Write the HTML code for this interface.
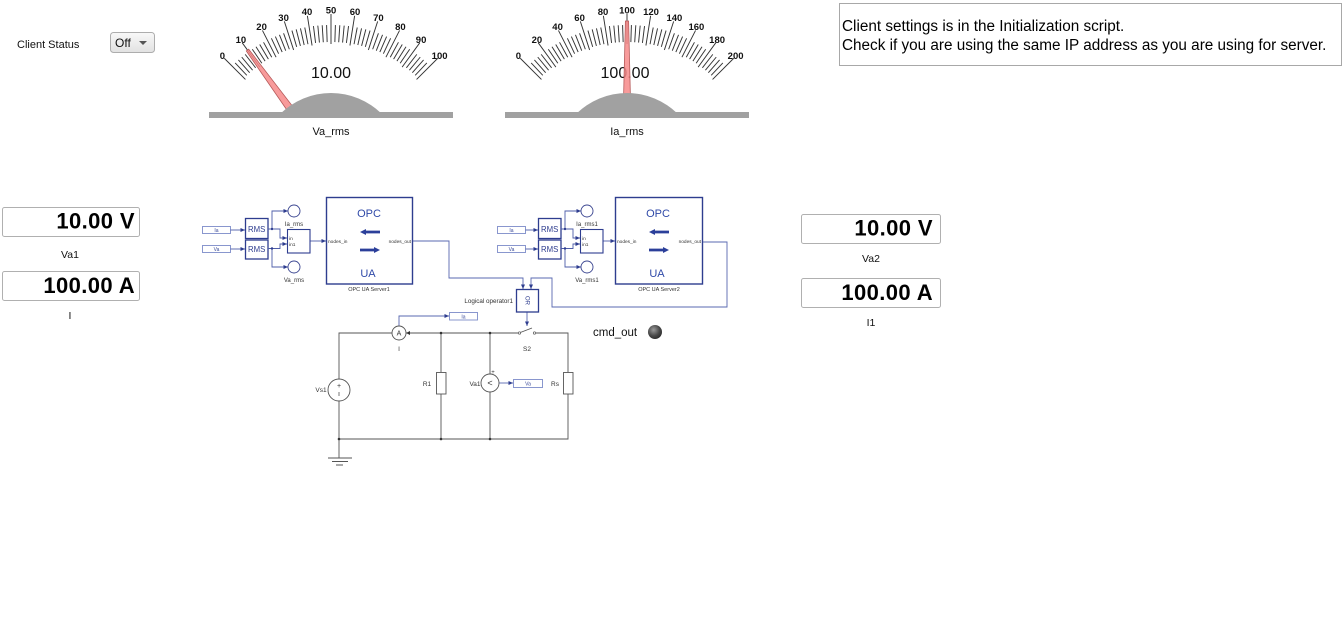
<!DOCTYPE html>
<html>
<head>
<meta charset="utf-8">
<style>
html,body{margin:0;padding:0;background:#fff;}
body{width:1343px;height:632px;overflow:hidden;position:relative;}
svg{position:absolute;left:0;top:0;}
text{font-family:"Liberation Sans",Arial,sans-serif;}
</style>
</head>
<body>
<svg width="1343" height="632" viewBox="0 0 1343 632" xmlns="http://www.w3.org/2000/svg">
<defs>
  <linearGradient id="dd" x1="0" y1="0" x2="0" y2="1">
    <stop offset="0" stop-color="#f8f8f8"/>
    <stop offset="1" stop-color="#e2e2e2"/>
  </linearGradient>
  <radialGradient id="led" cx="0.4" cy="0.35" r="0.7">
    <stop offset="0" stop-color="#9a9a9a"/>
    <stop offset="0.6" stop-color="#4a4a4a"/>
    <stop offset="1" stop-color="#2a2a2a"/>
  </radialGradient>
  <marker id="ab" markerWidth="5" markerHeight="5" refX="4.5" refY="2.5" orient="auto" markerUnits="userSpaceOnUse">
    <path d="M0,0.5 L4.5,2.5 L0,4.5 Z" fill="#2e3d8f"/>
  </marker>
</defs>

<!-- Client status -->
<text x="17" y="48" font-size="11" fill="#111">Client Status</text>
<rect x="110.5" y="32.5" width="44" height="20" rx="3" fill="url(#dd)" stroke="#adadad"/>
<text x="115" y="47" font-size="12" fill="#111">Off</text>
<path d="M139,41 L147,41 L143,45 Z" fill="#555"/>

<!-- Gauge 1 -->
<g id="g1ticks" stroke="#333" stroke-width="0.95"></g>
<g font-family="DejaVu Sans,Verdana,sans-serif" font-weight="bold" font-size="9.5" fill="#111" text-anchor="middle">
  <text x="222.4" y="59">0</text>
  <text x="240.9" y="43">10</text>
  <text x="261.6" y="30">20</text>
  <text x="283.6" y="21">30</text>
  <text x="307" y="15">40</text>
  <text x="331" y="13.5">50</text>
  <text x="355" y="15">60</text>
  <text x="378.4" y="21">70</text>
  <text x="400.4" y="30">80</text>
  <text x="421.1" y="43">90</text>
  <text x="439.6" y="59">100</text>
</g>
<text x="331" y="78" font-size="16" fill="#111" text-anchor="middle">10.00</text>
<polygon points="295.6,110.3 248.7,49.2 246.3,51.0 290.0,114.5" fill="#f78a8a" fill-opacity="0.85" stroke="#b65a5a" stroke-width="0.8"/>
<clipPath id="c1"><rect x="200" y="0" width="270" height="112"/></clipPath>
<circle cx="331" cy="165" r="72" fill="#a1a1a1" clip-path="url(#c1)"/>
<rect x="209" y="112" width="244" height="6" fill="#a1a1a1"/>
<text x="331" y="135" font-size="11" fill="#111" text-anchor="middle">Va_rms</text>

<!-- Gauge 2 -->
<g id="g2ticks" stroke="#333" stroke-width="0.95"></g>
<g font-family="DejaVu Sans,Verdana,sans-serif" font-weight="bold" font-size="9.5" fill="#111" text-anchor="middle">
  <text x="518.4" y="59">0</text>
  <text x="536.9" y="43">20</text>
  <text x="557.6" y="30">40</text>
  <text x="579.6" y="21">60</text>
  <text x="603" y="15">80</text>
  <text x="627" y="13.5">100</text>
  <text x="651" y="15">120</text>
  <text x="674.4" y="21">140</text>
  <text x="696.4" y="30">160</text>
  <text x="717.1" y="43">180</text>
  <text x="735.6" y="59">200</text>
</g>
<text x="625" y="78" font-size="16" fill="#111" text-anchor="middle">100.00</text>
<polygon points="630.5,100 628.6,21 625.4,21 623.5,100" fill="#f78a8a" fill-opacity="0.85" stroke="#b65a5a" stroke-width="0.8"/>
<clipPath id="c2"><rect x="496" y="0" width="270" height="112"/></clipPath>
<circle cx="627" cy="165" r="72" fill="#a1a1a1" clip-path="url(#c2)"/>
<rect x="505" y="112" width="244" height="6" fill="#a1a1a1"/>
<text x="627" y="135" font-size="11" fill="#111" text-anchor="middle">Ia_rms</text>

<!-- Info text box -->
<rect x="839.5" y="3.5" width="502" height="62" fill="#fff" stroke="#a8a8a8"/>
<text x="842" y="31" font-size="15.3" fill="#000">Client settings is in the Initialization script.</text>
<text x="842" y="50" font-size="15.3" fill="#000">Check if you are using the same IP address as you are using for server.</text>

<!-- Left displays -->
<rect x="2.5" y="207.5" width="137" height="29" rx="2" fill="#fff" stroke="#b0b0b0"/>
<text x="135" y="228.5" font-size="22" font-weight="bold" fill="#000" text-anchor="end" letter-spacing="0.4">10.00 V</text>
<text x="70" y="258" font-size="10.5" font-family="DejaVu Sans Mono,Liberation Mono,monospace" fill="#111" text-anchor="middle">Va1</text>
<rect x="2.5" y="271.5" width="137" height="29" rx="2" fill="#fff" stroke="#b0b0b0"/>
<text x="135" y="293" font-size="22" font-weight="bold" fill="#000" text-anchor="end" letter-spacing="0.4">100.00 A</text>
<text x="70" y="319" font-size="10.5" font-family="DejaVu Sans Mono,Liberation Mono,monospace" fill="#111" text-anchor="middle">I</text>

<!-- Right displays -->
<rect x="801.5" y="214.5" width="139" height="29" rx="2" fill="#fff" stroke="#b0b0b0"/>
<text x="933" y="235.5" font-size="22" font-weight="bold" fill="#000" text-anchor="end" letter-spacing="0.4">10.00 V</text>
<text x="871" y="262" font-size="10.5" font-family="DejaVu Sans Mono,Liberation Mono,monospace" fill="#111" text-anchor="middle">Va2</text>
<rect x="801.5" y="278.5" width="139" height="29" rx="2" fill="#fff" stroke="#b0b0b0"/>
<text x="933" y="300" font-size="22" font-weight="bold" fill="#000" text-anchor="end" letter-spacing="0.4">100.00 A</text>
<text x="871" y="326" font-size="10.5" font-family="DejaVu Sans Mono,Liberation Mono,monospace" fill="#111" text-anchor="middle">I1</text>

<!-- cmd_out -->
<text x="593" y="336" font-size="11.5" fill="#111">cmd_out</text>
<circle cx="655" cy="332" r="7" fill="url(#led)"/>

<!-- ===== Circuit block 1 ===== -->
<g id="blk1">
  <rect x="202.5" y="226.5" width="28" height="7" fill="#fff" stroke="#7d8cc9" stroke-width="0.9"/>
  <text x="216.5" y="232" font-size="5" fill="#3a4a9a" text-anchor="middle">Ia</text>
  <rect x="202.5" y="245.5" width="28" height="7" fill="#fff" stroke="#7d8cc9" stroke-width="0.9"/>
  <text x="216.5" y="251" font-size="5" fill="#3a4a9a" text-anchor="middle">Va</text>
  <line x1="230.5" y1="230" x2="245" y2="230" stroke="#4d5ca8" stroke-width="0.9" marker-end="url(#ab)"/>
  <line x1="230.5" y1="249" x2="245" y2="249" stroke="#4d5ca8" stroke-width="0.9" marker-end="url(#ab)"/>
  <rect x="245.5" y="218.5" width="22.5" height="20" fill="#fff" stroke="#2e3d8f" stroke-width="1.3"/>
  <rect x="245.5" y="240" width="22.5" height="19" fill="#fff" stroke="#2e3d8f" stroke-width="1.3"/>
  <text x="256.7" y="232" font-size="7.8" fill="#2e3d8f" text-anchor="middle">RMS</text>
  <text x="256.7" y="252" font-size="7.8" fill="#2e3d8f" text-anchor="middle">RMS</text>
  <g fill="none" stroke="#4d5ca8" stroke-width="0.9">
    <path d="M268,229 H280 V238 H287" marker-end="url(#ab)"/>
    <path d="M268,248.5 H280 V244 H287" marker-end="url(#ab)"/>
    <path d="M272,229 V211 H288" marker-end="url(#ab)"/>
    <path d="M272,248.5 V267 H288" marker-end="url(#ab)"/>
    <path d="M310,241 H326" marker-end="url(#ab)"/>
  </g>
  <circle cx="272" cy="229" r="1.2" fill="#2e3d8f"/>
  <circle cx="272" cy="248.5" r="1.2" fill="#2e3d8f"/>
  <circle cx="294" cy="211" r="6" fill="#fff" stroke="#3a4590" stroke-width="0.9"/>
  <circle cx="294" cy="267" r="6" fill="#fff" stroke="#3a4590" stroke-width="0.9"/>
  <text x="294" y="226" font-size="6" fill="#333" text-anchor="middle">Ia_rms</text>
  <text x="294" y="282" font-size="6" fill="#333" text-anchor="middle">Va_rms</text>
  <rect x="287.5" y="229.5" width="22.5" height="23.5" fill="#fff" stroke="#2e3d8f" stroke-width="1.1"/>
  <text x="289" y="240" font-size="4.8" fill="#333">in</text>
  <text x="289" y="246" font-size="4.8" fill="#333">in1</text>
  <rect x="326.5" y="197.5" width="86" height="86.5" fill="#fff" stroke="#2e3d8f" stroke-width="1.4"/>
  <text x="369" y="217" font-size="11" fill="#2f49a8" text-anchor="middle">OPC</text>
  <text x="368" y="277" font-size="11" fill="#2f49a8" text-anchor="middle">UA</text>
  <path d="M360,232 L366,229 L366,230.6 L380,230.6 L380,233.4 L366,233.4 L366,235 Z" fill="#2b3f9a"/>
  <path d="M380,250 L374,247 L374,248.6 L360,248.6 L360,251.4 L374,251.4 L374,253 Z" fill="#2b3f9a"/>
  <text x="328" y="243" font-size="4.8" fill="#333">nodes_in</text>
  <text x="411" y="243" font-size="4.8" fill="#333" text-anchor="end">nodes_out</text>
  <text x="369" y="291" font-size="5.5" fill="#333" text-anchor="middle">OPC UA Server1</text>
</g>

<!-- ===== Circuit block 2 ===== -->
<g id="blk2">
  <rect x="497.5" y="226.5" width="28" height="7" fill="#fff" stroke="#7d8cc9" stroke-width="0.9"/>
  <text x="511.5" y="232" font-size="5" fill="#3a4a9a" text-anchor="middle">Ia</text>
  <rect x="497.5" y="245.5" width="28" height="7" fill="#fff" stroke="#7d8cc9" stroke-width="0.9"/>
  <text x="511.5" y="251" font-size="5" fill="#3a4a9a" text-anchor="middle">Va</text>
  <line x1="525.5" y1="230" x2="538" y2="230" stroke="#4d5ca8" stroke-width="0.9" marker-end="url(#ab)"/>
  <line x1="525.5" y1="249" x2="538" y2="249" stroke="#4d5ca8" stroke-width="0.9" marker-end="url(#ab)"/>
  <rect x="538.5" y="218.5" width="22.5" height="20" fill="#fff" stroke="#2e3d8f" stroke-width="1.3"/>
  <rect x="538.5" y="240" width="22.5" height="19" fill="#fff" stroke="#2e3d8f" stroke-width="1.3"/>
  <text x="549.7" y="232" font-size="7.8" fill="#2e3d8f" text-anchor="middle">RMS</text>
  <text x="549.7" y="252" font-size="7.8" fill="#2e3d8f" text-anchor="middle">RMS</text>
  <g fill="none" stroke="#4d5ca8" stroke-width="0.9">
    <path d="M561,229 H573 V238 H580" marker-end="url(#ab)"/>
    <path d="M561,248.5 H573 V244 H580" marker-end="url(#ab)"/>
    <path d="M565,229 V211 H581" marker-end="url(#ab)"/>
    <path d="M565,248.5 V267 H581" marker-end="url(#ab)"/>
    <path d="M603,241 H615" marker-end="url(#ab)"/>
  </g>
  <circle cx="565" cy="229" r="1.2" fill="#2e3d8f"/>
  <circle cx="565" cy="248.5" r="1.2" fill="#2e3d8f"/>
  <circle cx="587" cy="211" r="6" fill="#fff" stroke="#3a4590" stroke-width="0.9"/>
  <circle cx="587" cy="267" r="6" fill="#fff" stroke="#3a4590" stroke-width="0.9"/>
  <text x="587" y="226" font-size="6" fill="#333" text-anchor="middle">Ia_rms1</text>
  <text x="587" y="282" font-size="6" fill="#333" text-anchor="middle">Va_rms1</text>
  <rect x="580.5" y="229.5" width="22.5" height="23.5" fill="#fff" stroke="#2e3d8f" stroke-width="1.1"/>
  <text x="582" y="240" font-size="4.8" fill="#333">in</text>
  <text x="582" y="246" font-size="4.8" fill="#333">in1</text>
  <rect x="615.5" y="197.5" width="87" height="86.5" fill="#fff" stroke="#2e3d8f" stroke-width="1.4"/>
  <text x="658" y="217" font-size="11" fill="#2f49a8" text-anchor="middle">OPC</text>
  <text x="657" y="277" font-size="11" fill="#2f49a8" text-anchor="middle">UA</text>
  <path d="M649,232 L655,229 L655,230.6 L669,230.6 L669,233.4 L655,233.4 L655,235 Z" fill="#2b3f9a"/>
  <path d="M669,250 L663,247 L663,248.6 L649,248.6 L649,251.4 L663,251.4 L663,253 Z" fill="#2b3f9a"/>
  <text x="617" y="243" font-size="4.8" fill="#333">nodes_in</text>
  <text x="701" y="243" font-size="4.8" fill="#333" text-anchor="end">nodes_out</text>
  <text x="659" y="291" font-size="5.5" fill="#333" text-anchor="middle">OPC UA Server2</text>
</g>

<!-- connections to OR -->
<g fill="none" stroke="#5868b0" stroke-width="0.9">
  <path d="M413,241 H449 V278 H523 V289" marker-end="url(#ab)"/>
  <path d="M703,242 H727 V307 H552 V278 H531 V289" marker-end="url(#ab)"/>
  <path d="M527,312 V326" marker-end="url(#ab)"/>
  <path d="M399,326 V316 H449" marker-end="url(#ab)"/>
  <path d="M499,383 H513" marker-end="url(#ab)"/>
</g>
<rect x="516.5" y="289.5" width="22" height="22.5" fill="#fff" stroke="#2e3d8f" stroke-width="1.3"/>
<text x="0" y="0" font-size="6" fill="#2e3d8f" text-anchor="middle" transform="translate(525.5,300.5) rotate(90)">OR</text>
<text x="513" y="303" font-size="6.3" fill="#333" text-anchor="end">Logical operator1</text>
<rect x="449.5" y="312.5" width="28" height="7.5" fill="#fff" stroke="#7d8cc9" stroke-width="0.9"/>
<text x="463.5" y="318.3" font-size="5" fill="#3a4a9a" text-anchor="middle">Ia</text>
<rect x="513.5" y="379.5" width="29" height="8" fill="#fff" stroke="#7d8cc9" stroke-width="0.9"/>
<text x="528" y="385.5" font-size="5" fill="#3a4a9a" text-anchor="middle">Va</text>

<!-- electrical circuit -->
<g fill="none" stroke="#555" stroke-width="0.9">
  <path d="M392,333 H339 V379"/>
  <path d="M339,401 V439 H568 V394"/>
  <path d="M406,333 H519"/>
  <path d="M535,333 H568 V372"/>
  <path d="M519,333 L532,328"/>
  <path d="M441,333 V372 M441,394 V439"/>
  <path d="M490,333 V374 M490,392 V439"/>
  <path d="M339,439 V458"/>
  <path d="M328,458 H352 M332,461.5 H348 M336,465 H343"/>
</g>
<circle cx="519.5" cy="333" r="1.2" fill="#fff" stroke="#555" stroke-width="0.7"/>
<circle cx="534.5" cy="333" r="1.2" fill="#fff" stroke="#555" stroke-width="0.7"/>
<g fill="#333">
  <circle cx="441" cy="333" r="1.3"/><circle cx="490" cy="333" r="1.3"/>
  <circle cx="339" cy="439" r="1.3"/><circle cx="441" cy="439" r="1.3"/><circle cx="490" cy="439" r="1.3"/>
  <path d="M406,333 L410,331 L410,335 Z"/>
</g>
<circle cx="399" cy="333" r="7" fill="#fff" stroke="#555" stroke-width="0.9"/>
<text x="399" y="335.5" font-size="7" fill="#333" text-anchor="middle">A</text>
<circle cx="339" cy="390" r="11" fill="#fff" stroke="#555" stroke-width="0.9"/>
<text x="339" y="388" font-size="7" fill="#333" text-anchor="middle">+</text>
<line x1="339" y1="392" x2="339" y2="396" stroke="#555" stroke-width="0.8"/>
<rect x="436.5" y="372.5" width="9.5" height="21.5" fill="#fff" stroke="#555" stroke-width="0.9"/>
<rect x="563.5" y="372.5" width="9.5" height="21.5" fill="#fff" stroke="#555" stroke-width="0.9"/>
<circle cx="490" cy="383" r="9" fill="#fff" stroke="#555" stroke-width="0.9"/>
<text x="490" y="386" font-size="9" fill="#333" text-anchor="middle">&lt;</text>
<text x="493" y="374" font-size="6" fill="#333" text-anchor="middle">+</text>
<g font-size="6.5" fill="#333" text-anchor="middle">
  <text x="399" y="351">I</text>
  <text x="527" y="351">S2</text>
  <text x="321" y="392">Vs1</text>
  <text x="427" y="386">R1</text>
  <text x="475" y="386">Va1</text>
  <text x="555" y="386">Rs</text>
</g>
</svg>
<script>
(function(){
  var NS="http://www.w3.org/2000/svg";
  function ticks(id,cx,cy){
    var g=document.getElementById(id);
    for(var i=0;i<=50;i++){
      var th=(-45+1.8*i)*Math.PI/180, s=Math.sin(th), c=Math.cos(th);
      var major=(i%5===0), r1=major?121:123, r2=major?151:140;
      var l=document.createElementNS(NS,"line");
      l.setAttribute("x1",(cx+r1*s).toFixed(2));
      l.setAttribute("y1",(cy-r1*c).toFixed(2));
      l.setAttribute("x2",(cx+r2*s).toFixed(2));
      l.setAttribute("y2",(cy-r2*c).toFixed(2));
      g.appendChild(l);
    }
  }
  ticks("g1ticks",331,165);
  ticks("g2ticks",627,165);
})();
</script>
</body>
</html>
